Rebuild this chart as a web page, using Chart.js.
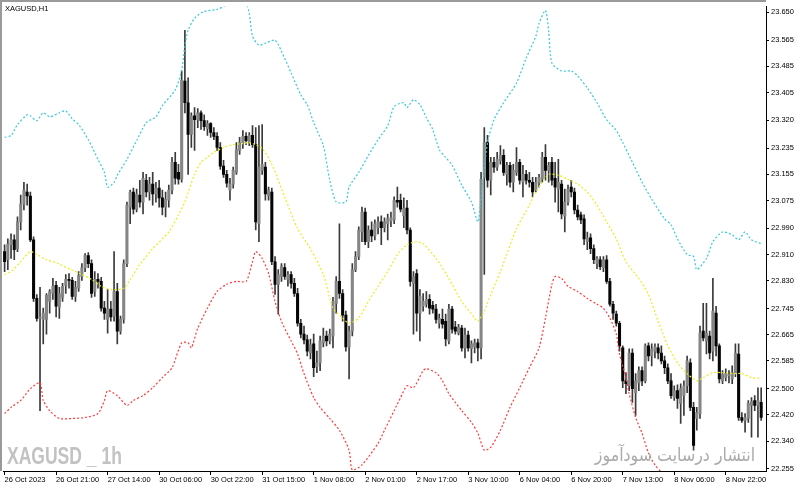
<!DOCTYPE html>
<html>
<head>
<meta charset="utf-8">
<script src="https://cdn.jsdelivr.net/npm/chart.js@4.4.1/dist/chart.umd.min.js"></script>
<style>
  html, body { margin: 0; padding: 0; background: #fff; }
  #wrap { position: relative; width: 800px; height: 488px; overflow: hidden; }
  canvas { display: block; }
  .sym { position: absolute; left: 5px; top: 4px; font: 7.5px 'Liberation Sans', sans-serif; line-height: 10px; color: #000; }
  .wm  { position: absolute; left: 7px; top: 444px; font: bold 24px 'Liberation Sans', sans-serif; line-height: 24px;
         color: #c2c2c2; transform: scaleX(0.73); transform-origin: left top; white-space: pre; }
  .fa  { position: absolute; right: 45px; top: 443px; font: 18px 'DejaVu Sans', sans-serif; line-height: 24px;
         color: #ababab; direction: rtl; white-space: nowrap; transform: scaleX(0.88); transform-origin: right top; }
</style>
</head>
<body>
<div id="wrap">
  <canvas id="chart" width="800" height="488"></canvas>
  <div class="sym">XAGUSD,H1</div>
  <div class="wm">XAGUSD _ 1h</div>
  <div class="fa">انتشار درسایت سودآموز</div>
</div>
<script>
/* XAGUSD H1 candles, 26 Oct - 9 Nov 2023, with a dotted band indicator */

// ── Data ───────────────────────────────────────────────────────────

const xTickIdx    = [0, 16, 32, 48, 64, 80, 96, 112, 128, 144, 160, 176, 192, 208, 224];
const xTickLabels = ['26 Oct 2023', '26 Oct 21:00', '27 Oct 14:00', '30 Oct 06:00', '30 Oct 22:00',
                     '31 Oct 15:00', '1 Nov 08:00', '2 Nov 01:00', '2 Nov 17:00', '3 Nov 10:00',
                     '6 Nov 04:00', '6 Nov 20:00', '7 Nov 13:00', '8 Nov 06:00', '8 Nov 22:00'];
const yTicks = [23.650, 23.565, 23.485, 23.405, 23.320, 23.235, 23.155, 23.075, 22.990,
                22.910, 22.830, 22.745, 22.665, 22.585, 22.500, 22.420, 22.340, 22.255];

const openP = [
  22.919,22.894,22.940,22.955,22.928,23.010,23.064,23.101,23.089,22.955,22.776,22.715,22.712,22.712,22.767,22.791,
  22.816,22.749,22.779,22.816,22.834,22.831,22.782,22.807,22.843,22.870,22.907,22.882,22.797,22.834,22.828,22.746,
  22.712,22.743,22.722,22.797,22.676,22.712,22.882,23.055,23.101,23.049,23.092,23.070,23.137,23.101,23.125,23.095,
  23.113,23.083,23.055,23.076,23.107,23.192,23.161,23.140,23.440,23.374,23.277,23.334,23.322,23.343,23.319,23.295,
  23.310,23.283,23.271,23.237,23.180,23.155,23.107,23.125,23.161,23.228,23.252,23.271,23.252,23.274,23.246,23.004,
  23.167,23.177,23.089,23.101,22.888,22.819,22.843,22.870,22.834,22.849,22.822,22.791,22.700,22.667,22.649,22.609,
  22.637,22.567,22.579,22.640,22.661,22.646,22.661,22.761,22.828,22.791,22.725,22.628,22.676,22.864,22.904,22.979,
  23.040,22.949,22.985,22.967,22.992,23.010,22.992,23.004,23.013,23.016,23.076,23.076,23.028,23.052,22.985,22.822,
  22.852,22.731,22.752,22.758,22.773,22.755,22.743,22.700,22.712,22.706,22.646,22.743,22.688,22.670,22.685,22.625,
  22.664,22.622,22.628,22.640,22.625,23.146,23.252,23.137,23.192,23.177,23.198,23.213,23.155,23.183,23.131,23.161,
  23.192,23.131,23.155,23.137,23.131,23.107,23.128,23.140,23.207,23.167,23.192,23.143,23.110,23.125,23.028,23.070,
  23.116,23.101,23.046,23.031,23.019,22.949,22.961,22.928,22.882,22.894,22.870,22.894,22.828,22.758,22.728,22.700,
  22.625,22.524,22.509,22.609,22.488,22.518,22.555,22.524,22.631,22.600,22.615,22.625,22.609,22.585,22.564,22.524,
  22.473,22.494,22.455,22.479,22.509,22.579,22.443,22.409,22.424,22.676,22.646,22.661,22.615,22.731,22.631,22.524,
  22.534,22.540,22.530,22.549,22.606,22.412,22.403,22.409,22.449,22.464,22.449,22.458
];
const highP = [
  22.940,22.958,22.973,22.970,23.025,23.092,23.131,23.125,23.101,22.964,22.788,22.810,22.746,22.791,22.803,22.837,
  22.828,22.810,22.822,22.849,22.852,22.840,22.828,22.858,22.882,22.913,22.916,22.894,22.858,22.852,22.840,22.767,
  22.803,22.767,22.919,22.822,22.722,22.894,23.070,23.107,23.113,23.110,23.137,23.161,23.155,23.146,23.161,23.131,
  23.137,23.107,23.101,23.122,23.207,23.222,23.186,23.471,23.595,23.450,23.343,23.359,23.356,23.349,23.337,23.319,
  23.313,23.298,23.283,23.252,23.198,23.167,23.143,23.177,23.252,23.268,23.289,23.283,23.283,23.304,23.298,23.304,
  23.307,23.192,23.116,23.113,22.904,22.864,22.882,22.882,22.858,22.858,22.837,22.807,22.712,22.691,22.664,22.652,
  22.667,22.615,22.661,22.685,22.676,22.682,22.779,22.843,23.004,22.803,22.737,22.691,22.882,22.919,22.995,23.055,
  23.052,22.998,23.010,23.016,23.025,23.028,23.022,23.034,23.040,23.086,23.116,23.095,23.083,23.076,22.992,22.858,
  22.864,22.803,22.791,22.797,22.788,22.767,22.758,22.728,22.743,22.728,22.758,22.752,22.706,22.697,22.694,22.685,
  22.676,22.646,22.652,22.652,23.161,23.298,23.274,23.207,23.207,23.222,23.243,23.231,23.192,23.192,23.186,23.237,
  23.201,23.183,23.167,23.161,23.146,23.146,23.155,23.222,23.246,23.192,23.207,23.192,23.201,23.137,23.110,23.122,
  23.137,23.113,23.061,23.040,23.031,22.979,22.973,22.940,22.904,22.904,22.904,22.907,22.837,22.767,22.737,22.706,
  22.631,22.549,22.622,22.622,22.546,22.567,22.567,22.637,22.640,22.637,22.637,22.637,22.631,22.600,22.576,22.546,
  22.509,22.512,22.515,22.524,22.600,22.591,22.458,22.443,22.691,22.761,22.761,22.676,22.837,22.752,22.637,22.555,
  22.561,22.555,22.570,22.637,22.637,22.427,22.424,22.464,22.473,22.479,22.503,22.503
];
const lowP = [
  22.858,22.864,22.898,22.894,22.919,22.985,23.046,23.061,22.949,22.767,22.706,22.433,22.637,22.667,22.731,22.773,
  22.719,22.715,22.767,22.791,22.807,22.773,22.767,22.797,22.831,22.858,22.870,22.779,22.782,22.807,22.737,22.712,
  22.670,22.706,22.706,22.637,22.667,22.700,22.873,23.004,23.034,23.040,23.055,23.034,23.086,23.076,23.061,23.070,
  23.055,23.031,23.025,23.055,23.095,23.125,23.125,23.131,23.343,23.155,23.237,23.228,23.298,23.292,23.289,23.274,
  23.268,23.261,23.228,23.170,23.146,23.116,23.076,23.113,23.155,23.216,23.234,23.246,23.243,23.237,22.985,22.949,
  23.155,23.076,23.076,22.879,22.788,22.728,22.828,22.834,22.813,22.807,22.782,22.691,22.655,22.637,22.600,22.591,
  22.537,22.549,22.555,22.628,22.631,22.637,22.625,22.731,22.776,22.706,22.615,22.530,22.661,22.858,22.894,22.949,
  22.940,22.931,22.949,22.955,22.973,22.940,22.979,22.955,22.995,23.004,23.055,23.040,22.992,22.973,22.813,22.667,
  22.676,22.646,22.737,22.749,22.728,22.731,22.700,22.685,22.685,22.631,22.637,22.670,22.667,22.664,22.615,22.594,
  22.615,22.579,22.609,22.585,22.591,22.849,23.116,23.092,23.161,23.167,23.186,23.152,23.122,23.116,23.101,23.152,
  23.125,23.086,23.125,23.116,23.086,23.101,23.116,23.131,23.137,23.131,23.122,23.070,23.040,23.019,22.979,23.061,
  23.086,23.034,23.016,23.004,22.940,22.925,22.913,22.882,22.867,22.864,22.858,22.822,22.752,22.712,22.691,22.615,
  22.503,22.485,22.494,22.458,22.418,22.494,22.509,22.518,22.585,22.570,22.594,22.591,22.576,22.546,22.515,22.470,
  22.464,22.440,22.394,22.418,22.488,22.433,22.312,22.373,22.409,22.646,22.606,22.591,22.585,22.600,22.518,22.515,
  22.524,22.518,22.515,22.537,22.403,22.397,22.367,22.397,22.352,22.433,22.352,22.403
];
const closeP = [
  22.888,22.943,22.955,22.925,23.010,23.064,23.107,23.089,22.955,22.776,22.715,22.719,22.731,22.785,22.797,22.813,
  22.752,22.791,22.813,22.834,22.831,22.782,22.810,22.846,22.870,22.907,22.882,22.791,22.834,22.828,22.746,22.731,
  22.743,22.719,22.797,22.676,22.712,22.882,23.061,23.101,23.049,23.095,23.070,23.143,23.101,23.125,23.095,23.113,
  23.083,23.055,23.079,23.107,23.192,23.143,23.140,23.443,23.374,23.277,23.334,23.322,23.343,23.319,23.301,23.310,
  23.283,23.271,23.237,23.180,23.155,23.128,23.125,23.167,23.231,23.252,23.271,23.258,23.274,23.246,23.010,23.177,
  23.186,23.095,23.107,22.888,22.819,22.849,22.873,22.843,22.849,22.822,22.791,22.700,22.667,22.649,22.615,22.634,
  22.564,22.579,22.646,22.661,22.646,22.667,22.767,22.828,22.791,22.725,22.628,22.676,22.864,22.904,22.985,23.040,
  22.949,22.985,22.967,23.004,23.010,22.992,23.010,23.019,23.022,23.076,23.070,23.049,23.052,22.985,22.828,22.843,
  22.731,22.782,22.767,22.773,22.746,22.743,22.712,22.715,22.697,22.652,22.743,22.682,22.676,22.688,22.625,22.664,
  22.625,22.637,22.640,22.625,23.140,23.252,23.137,23.192,23.177,23.201,23.213,23.161,23.183,23.131,23.167,23.192,
  23.137,23.155,23.137,23.131,23.101,23.131,23.146,23.207,23.167,23.183,23.137,23.116,23.131,23.034,23.070,23.110,
  23.101,23.046,23.025,23.016,22.958,22.961,22.928,22.894,22.898,22.873,22.894,22.828,22.758,22.731,22.700,22.631,
  22.524,22.515,22.609,22.500,22.524,22.555,22.524,22.631,22.600,22.621,22.628,22.609,22.585,22.564,22.524,22.479,
  22.494,22.470,22.500,22.509,22.585,22.443,22.327,22.427,22.670,22.655,22.670,22.609,22.737,22.631,22.530,22.543,
  22.546,22.543,22.549,22.609,22.412,22.403,22.412,22.455,22.461,22.449,22.464,22.412
];

// band indicator, read at the bars where its shape changes
const upperIdx  = [0,2,4,7,8,10,12,14,17,19,21,23,26,29,31,32,34,35,38,41,44,47,49,53,55,56,57,59,62,66,
                   69,75,76,77,79,81,84,86,89,92,94,96,99,101,103,106,107,110,113,116,119,121,124,125,127,129,131,133,135,137,
                   139,142,145,147,148,150,152,155,159,162,165,166,168,169,170,173,176,178,181,184,187,190,192,195,198,201,205,207,209,212,
                   214,215,218,220,223,226,228,230,232,235];
const upperVals = [23.268,23.274,23.307,23.337,23.334,23.319,23.343,23.331,23.343,23.349,23.325,23.307,23.261,23.201,23.161,23.116,23.131,23.152,23.201,23.258,
                   23.313,23.331,23.365,23.413,23.474,23.547,23.595,23.632,23.653,23.659,23.671,23.674,23.647,23.577,23.550,23.556,23.565,23.531,23.465,23.398,
                   23.368,23.313,23.243,23.137,23.071,23.071,23.116,23.161,23.213,23.261,23.304,23.362,23.374,23.359,23.383,23.368,23.328,23.292,23.231,23.207,
                   23.183,23.122,23.071,23.010,23.086,23.252,23.322,23.374,23.434,23.510,23.577,23.616,23.656,23.592,23.495,23.471,23.471,23.456,23.419,23.374,
                   23.322,23.289,23.252,23.192,23.131,23.079,23.019,23.001,22.958,22.910,22.904,22.864,22.898,22.949,22.979,22.970,22.955,22.979,22.955,22.943];

const midIdx  = [0,2,5,8,10,13,16,20,24,27,30,33,37,39,42,46,51,54,56,59,61,63,65,68,71,74,76,80,83,85,
                 87,91,95,99,102,105,107,110,113,116,119,122,125,128,130,134,138,142,146,147,149,151,154,159,163,165,169,172,175,178,
                 181,184,187,190,193,197,200,203,206,209,212,215,217,220,223,226,229,232,235];
const midVals = [22.849,22.858,22.888,22.919,22.910,22.894,22.885,22.867,22.849,22.834,22.813,22.803,22.807,22.834,22.879,22.928,22.979,23.031,23.071,23.155,
                 23.192,23.207,23.222,23.237,23.246,23.249,23.252,23.234,23.186,23.137,23.086,22.989,22.928,22.849,22.746,22.716,22.700,22.716,22.767,22.813,
                 22.858,22.910,22.940,22.949,22.943,22.898,22.837,22.767,22.716,22.706,22.737,22.788,22.858,22.989,23.061,23.101,23.155,23.152,23.140,23.125,
                 23.101,23.061,23.010,22.958,22.888,22.837,22.788,22.706,22.631,22.579,22.546,22.524,22.534,22.549,22.549,22.546,22.546,22.534,22.531];

const lowIdx  = [0,2,5,8,11,12,14,17,21,25,29,31,32,35,38,40,43,46,49,52,55,57,58,60,63,66,69,72,75,77,
                 78,80,82,84,86,89,91,93,96,98,101,104,107,108,111,116,118,121,123,125,127,130,131,134,136,138,142,145,147,149,
                 151,154,157,160,163,166,168,170,171,173,175,178,181,184,186,188,190,191,193,194,196,198,200,202,204];
const lowVals = [22.424,22.443,22.464,22.500,22.518,22.464,22.433,22.409,22.409,22.412,22.424,22.464,22.494,22.479,22.449,22.464,22.479,22.503,22.534,22.564,
                 22.640,22.640,22.625,22.685,22.746,22.797,22.819,22.828,22.828,22.888,22.919,22.898,22.852,22.767,22.706,22.646,22.606,22.546,22.473,22.443,
                 22.409,22.373,22.312,22.252,22.267,22.333,22.373,22.433,22.473,22.509,22.503,22.555,22.561,22.549,22.524,22.485,22.433,22.397,22.364,22.312,
                 22.321,22.373,22.443,22.503,22.564,22.625,22.716,22.819,22.843,22.837,22.813,22.797,22.776,22.758,22.746,22.716,22.667,22.606,22.534,22.485,
                 22.412,22.364,22.303,22.267,22.245];

// ── Build ──────────────────────────────────────────────────────────

const BULL = '#858585';
const BEAR = '#050505';
const FONT = { family: 'Liberation Sans', size: 7.5 };

const barIdx   = openP.map((_, i) => i);
const wickData = barIdx.map(i => ({ x: i, y: [lowP[i], highP[i]] }));
const bodyData = barIdx.map(i => ({ x: i, y: [openP[i], closeP[i]] }));
const bodyCols = barIdx.map(i => closeP[i] >= openP[i] ? BULL : BEAR);

const pts = (idx, vals) => idx.map((k, j) => ({ x: k, y: vals[j] }));

function band(data, color) {
  return {
    type: 'line', data, order: 0,
    borderColor: color, borderWidth: 1.2, borderDash: [2, 2],
    pointRadius: 0, tension: 0.25, fill: false,
  };
}

// gray frame on the top and left edges, like the terminal window
const frame = {
  id: 'frame',
  afterDraw(chart) {
    const { ctx, chartArea: a } = chart;
    ctx.save();
    ctx.fillStyle = '#9a9a9a';
    ctx.fillRect(0, 0, a.right, 2);
    ctx.fillRect(0, 0, 2, a.bottom);
    ctx.restore();
  }
};

new Chart(document.getElementById('chart'), {
  type: 'bar',
  data: {
    datasets: [
      band(pts(upperIdx, upperVals), '#36c9dc'),
      band(pts(midIdx, midVals),     '#ecec1c'),
      band(pts(lowIdx, lowVals),     '#ff3a3a'),
      { data: bodyData, backgroundColor: bodyCols, barThickness: 2.4, grouped: false, order: 1 },
      { data: wickData, backgroundColor: '#3a3a3a', barThickness: 1,   grouped: false, order: 2 },
    ]
  },
  options: {
    responsive: false,
    animation: false,
    layout: { padding: { left: 3, top: 3, right: 0, bottom: 0 } },
    plugins: { legend: { display: false }, tooltip: { enabled: false } },
    scales: {
      x: {
        type: 'linear', min: -0.5, max: 236.5, offset: false,
        grid: { offset: false, drawOnChartArea: false, drawTicks: true, tickLength: 4, color: '#000' },
        border: { color: '#000' },
        afterBuildTicks: axis => { axis.ticks = xTickIdx.map(v => ({ value: v })); },
        afterFit: axis => { axis.height = 17; },
        ticks: {
          autoSkip: false, maxRotation: 0, minRotation: 0, align: 'start', padding: 0,
          color: '#000', font: FONT,
          callback: (v, i) => xTickLabels[i],
        }
      },
      y: {
        position: 'right', min: 22.2485, max: 23.668,
        grid: { drawOnChartArea: false, drawTicks: true, tickLength: 3, color: '#000' },
        border: { color: '#000' },
        afterBuildTicks: axis => { axis.ticks = yTicks.map(v => ({ value: v })); },
        afterFit: axis => { axis.width = 34; },
        ticks: { autoSkip: false, padding: 2, color: '#000', font: FONT, callback: v => v.toFixed(3) }
      }
    }
  },
  plugins: [frame]
});
</script>
</body>
</html>
